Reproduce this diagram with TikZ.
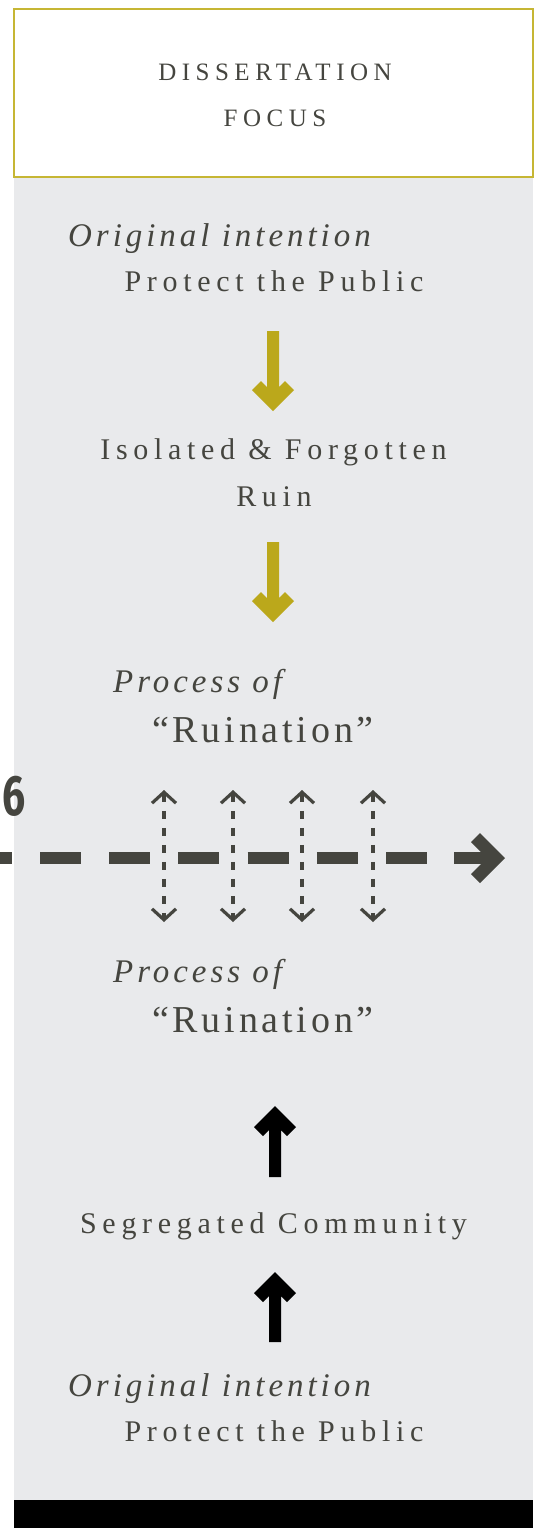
\documentclass[tikz,border=0pt]{standalone}
\usepackage{fontspec}
\setmainfont{Liberation Serif}
\newfontfamily\spcfont[LetterSpace=22]{Liberation Serif}
\newfontfamily\midfont[LetterSpace=19]{Liberation Serif}
\newfontfamily\bigfont[LetterSpace=10]{Liberation Serif}
\newfontfamily\scrfont[LetterSpace=12]{Liberation Serif}
\newfontfamily\numfont{Fira Sans}
\usetikzlibrary{arrows.meta}
\definecolor{ink}{HTML}{45453F}
\definecolor{bgray}{HTML}{E9EAEC}
\definecolor{gold}{HTML}{BBA81B}
\definecolor{rulegold}{HTML}{C6B634}
\newcommand\fatarrow[5]{%
 \fill[#5] ({#1-6},#2) -- ({#1-6},{#3-24*#4}) -- ({#1-12},{#3-30*#4}) -- ({#1-21},{#3-21*#4}) -- (#1,#3) -- ({#1+21},{#3-21*#4}) -- ({#1+12},{#3-30*#4}) -- ({#1+6},{#3-24*#4}) -- ({#1+6},#2) -- cycle;}
\tikzset{
 txt/.style={inner sep=0pt, anchor=base, text=ink},
 scr/.style={inner sep=0pt, anchor=base west, text=ink, font=\scrfont\itshape\fontsize{33}{36}\selectfont},
 mid/.style={txt, font=\midfont\fontsize{30}{34}\selectfont},
 big/.style={txt, font=\bigfont\fontsize{38}{42}\selectfont},
 head/.style={txt, font=\spcfont\fontsize{25}{28}\selectfont},
 dotarrow/.style={draw=ink, line width=3.2pt, dash pattern=on 8pt off 9pt, {Straight Barb[length=11pt,width=24pt]}-{Straight Barb[length=11pt,width=24pt]}},
}
\begin{document}
\begin{tikzpicture}[x=1pt,y=-1pt]
\useasboundingbox (0,0) rectangle (541,1528);
\fill[white] (0,0) rectangle (541,1528);
\fill[bgray] (14,177) rectangle (533,1500);
\fill[black] (14,1500) rectangle (533,1528);
\draw[rulegold, line width=1.5pt, fill=white] (14,9) rectangle (533,177);
\node[head] (h1) at (275,81) {DISSERTATION};
\node[head] (h2) at (275,126) {FOCUS};
% group 1
\node[scr] (oi1) at (68,246) {Original intention};
\node[mid] (pp1) at (274,291) {Protect the Public};
\fatarrow{273}{331}{411}{1}{gold}
\node[mid] (if1) at (273.5,459) {Isolated \& Forgotten};
\node[mid] (if2) at (274,506) {Ruin};
\fatarrow{273}{542}{622}{1}{gold}
\node[scr] (po1) at (113,692) {Process of};
\node[big] (ru1) at (263,742) {“Ruination”};
% timeline
\node[inner sep=0pt, anchor=south west, text=ink] (six) at (2,817) {\scalebox{0.72}[1]{\numfont\bfseries\fontsize{57}{60}\selectfont 6}};
\coordinate (tl0) at (-29.2,858);
\coordinate (tl1) at (427,858);
\draw[ink, line width=12pt, dash pattern=on 41pt off 28.2pt] (tl0) -- (tl1);
\fill[ink] (454,852) rectangle (490,864);
\fill[ink] (505,858) -- (480,833) -- (471,842) -- (487,858) -- (471,874) -- (480,883) -- cycle;
\foreach \x in {164,233,302,373}{
 \coordinate (t\x) at (\x,790);
 \coordinate (b\x) at (\x,922);
 \draw[dotarrow] (t\x) -- (b\x);
}
% group 2
\node[scr] (po2) at (113,982) {Process of};
\node[big] (ru2) at (263,1032) {“Ruination”};
\fatarrow{275}{1177}{1106}{-1}{black}
\node[mid] (sc) at (273.5,1233) {Segregated Community};
\fatarrow{275}{1342}{1272}{-1}{black}
\node[scr] (oi2) at (68,1396) {Original intention};
\node[mid] (pp2) at (274,1441) {Protect the Public};
\end{tikzpicture}
\end{document}
